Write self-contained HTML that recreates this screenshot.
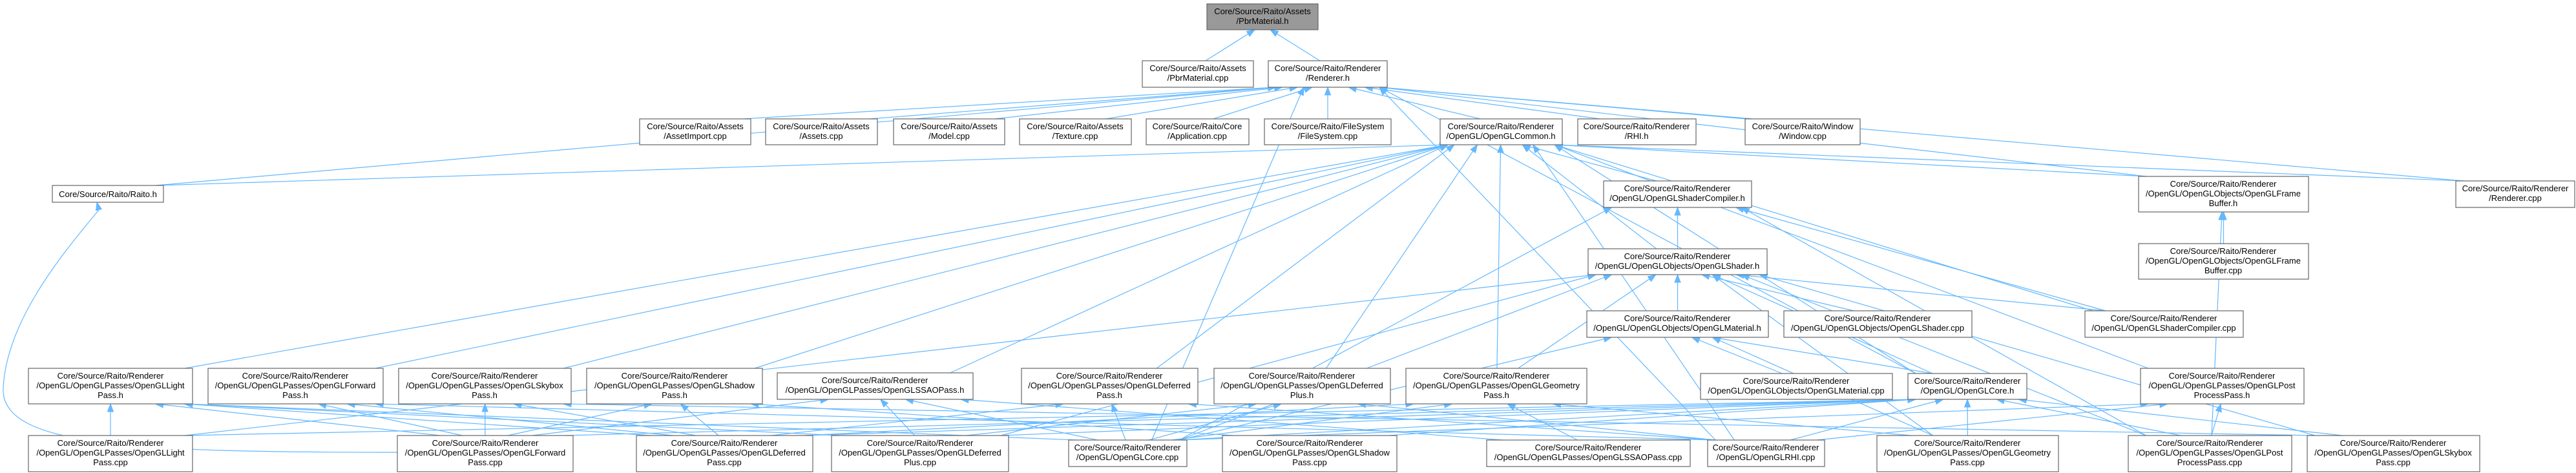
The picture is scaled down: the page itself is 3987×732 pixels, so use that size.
<!DOCTYPE html>
<html><head><meta charset="utf-8"><style>
html,body{margin:0;padding:0;background:#fff;}
svg{display:block;}
text{font-family:"Liberation Sans",Helvetica,Arial,sans-serif;font-size:13px;fill:#000;}
rect{stroke:#666;stroke-width:1.2;fill:#fff;}
</style></head><body>
<svg id="g" width="3987" height="732" viewBox="0 0 3987 732" xmlns="http://www.w3.org/2000/svg">
<g id="edges" fill="none" stroke="#63b8ff" stroke-width="1.2"></g>
<g id="heads" fill="#63b8ff" stroke="#63b8ff"></g>
<g id="nodes" text-anchor="middle">
<rect x="1868" y="6" width="172" height="40" style="fill:#999"/><text x="1954" y="22">Core/Source/Raito/Assets</text><text x="1954" y="37">/PbrMaterial.h</text>
<rect x="1768" y="94" width="172" height="41"/><text x="1854" y="110">Core/Source/Raito/Assets</text><text x="1854" y="125">/PbrMaterial.cpp</text>
<rect x="1963" y="94" width="184" height="41"/><text x="2055" y="110">Core/Source/Raito/Renderer</text><text x="2055" y="125">/Renderer.h</text>
<rect x="990" y="184" width="172" height="40"/><text x="1076" y="200">Core/Source/Raito/Assets</text><text x="1076" y="215">/AssetImport.cpp</text>
<rect x="1185" y="184" width="173" height="40"/><text x="1271" y="200">Core/Source/Raito/Assets</text><text x="1271" y="215">/Assets.cpp</text>
<rect x="1383" y="184" width="172" height="40"/><text x="1469" y="200">Core/Source/Raito/Assets</text><text x="1469" y="215">/Model.cpp</text>
<rect x="1578" y="184" width="173" height="40"/><text x="1664" y="200">Core/Source/Raito/Assets</text><text x="1664" y="215">/Texture.cpp</text>
<rect x="1774" y="184" width="159" height="40"/><text x="1853" y="200">Core/Source/Raito/Core</text><text x="1853" y="215">/Application.cpp</text>
<rect x="1957" y="184" width="196" height="40"/><text x="2055" y="200">Core/Source/Raito/FileSystem</text><text x="2055" y="215">/FileSystem.cpp</text>
<rect x="2229" y="184" width="189" height="40"/><text x="2323" y="200">Core/Source/Raito/Renderer</text><text x="2323" y="215">/OpenGL/OpenGLCommon.h</text>
<rect x="2442" y="184" width="183" height="40"/><text x="2533" y="200">Core/Source/Raito/Renderer</text><text x="2533" y="215">/RHI.h</text>
<rect x="2701" y="184" width="178" height="40"/><text x="2790" y="200">Core/Source/Raito/Window</text><text x="2790" y="215">/Window.cpp</text>
<rect x="81" y="287" width="172" height="26"/><text x="167" y="305">Core/Source/Raito/Raito.h</text>
<rect x="2482" y="280" width="229" height="41"/><text x="2596" y="296">Core/Source/Raito/Renderer</text><text x="2596" y="311">/OpenGL/OpenGLShaderCompiler.h</text>
<rect x="3310" y="273" width="263" height="55"/><text x="3441" y="289">Core/Source/Raito/Renderer</text><text x="3441" y="304">/OpenGL/OpenGLObjects/OpenGLFrame</text><text x="3441" y="319">Buffer.h</text>
<rect x="3801" y="280" width="184" height="41"/><text x="3893" y="296">Core/Source/Raito/Renderer</text><text x="3893" y="311">/Renderer.cpp</text>
<rect x="2458" y="385" width="277" height="40"/><text x="2596" y="401">Core/Source/Raito/Renderer</text><text x="2596" y="416">/OpenGL/OpenGLObjects/OpenGLShader.h</text>
<rect x="3310" y="377" width="263" height="55"/><text x="3441" y="393">Core/Source/Raito/Renderer</text><text x="3441" y="408">/OpenGL/OpenGLObjects/OpenGLFrame</text><text x="3441" y="423">Buffer.cpp</text>
<rect x="2456" y="481" width="281" height="41"/><text x="2596" y="497">Core/Source/Raito/Renderer</text><text x="2596" y="512">/OpenGL/OpenGLObjects/OpenGLMaterial.h</text>
<rect x="2761" y="481" width="291" height="41"/><text x="2906" y="497">Core/Source/Raito/Renderer</text><text x="2906" y="512">/OpenGL/OpenGLObjects/OpenGLShader.cpp</text>
<rect x="3227" y="481" width="245" height="41"/><text x="3349" y="497">Core/Source/Raito/Renderer</text><text x="3349" y="512">/OpenGL/OpenGLShaderCompiler.cpp</text>
<rect x="44" y="570" width="254" height="55"/><text x="171" y="586">Core/Source/Raito/Renderer</text><text x="171" y="601">/OpenGL/OpenGLPasses/OpenGLLight</text><text x="171" y="616">Pass.h</text>
<rect x="322" y="570" width="271" height="55"/><text x="457" y="586">Core/Source/Raito/Renderer</text><text x="457" y="601">/OpenGL/OpenGLPasses/OpenGLForward</text><text x="457" y="616">Pass.h</text>
<rect x="617" y="570" width="267" height="55"/><text x="750" y="586">Core/Source/Raito/Renderer</text><text x="750" y="601">/OpenGL/OpenGLPasses/OpenGLSkybox</text><text x="750" y="616">Pass.h</text>
<rect x="908" y="570" width="272" height="55"/><text x="1044" y="586">Core/Source/Raito/Renderer</text><text x="1044" y="601">/OpenGL/OpenGLPasses/OpenGLShadow</text><text x="1044" y="616">Pass.h</text>
<rect x="1203" y="577" width="303" height="41"/><text x="1354" y="593">Core/Source/Raito/Renderer</text><text x="1354" y="608">/OpenGL/OpenGLPasses/OpenGLSSAOPass.h</text>
<rect x="1581" y="570" width="273" height="55"/><text x="1717" y="586">Core/Source/Raito/Renderer</text><text x="1717" y="601">/OpenGL/OpenGLPasses/OpenGLDeferred</text><text x="1717" y="616">Pass.h</text>
<rect x="1879" y="570" width="273" height="55"/><text x="2015" y="586">Core/Source/Raito/Renderer</text><text x="2015" y="601">/OpenGL/OpenGLPasses/OpenGLDeferred</text><text x="2015" y="616">Plus.h</text>
<rect x="2176" y="570" width="280" height="55"/><text x="2316" y="586">Core/Source/Raito/Renderer</text><text x="2316" y="601">/OpenGL/OpenGLPasses/OpenGLGeometry</text><text x="2316" y="616">Pass.h</text>
<rect x="2632" y="578" width="297" height="40"/><text x="2780" y="594">Core/Source/Raito/Renderer</text><text x="2780" y="609">/OpenGL/OpenGLObjects/OpenGLMaterial.cpp</text>
<rect x="2953" y="578" width="184" height="40"/><text x="3045" y="594">Core/Source/Raito/Renderer</text><text x="3045" y="609">/OpenGL/OpenGLCore.h</text>
<rect x="3313" y="570" width="253" height="55"/><text x="3439" y="586">Core/Source/Raito/Renderer</text><text x="3439" y="601">/OpenGL/OpenGLPasses/OpenGLPost</text><text x="3439" y="616">ProcessPass.h</text>
<rect x="44" y="674" width="254" height="56"/><text x="171" y="690">Core/Source/Raito/Renderer</text><text x="171" y="705">/OpenGL/OpenGLPasses/OpenGLLight</text><text x="171" y="720">Pass.cpp</text>
<rect x="615" y="674" width="272" height="56"/><text x="751" y="690">Core/Source/Raito/Renderer</text><text x="751" y="705">/OpenGL/OpenGLPasses/OpenGLForward</text><text x="751" y="720">Pass.cpp</text>
<rect x="985" y="674" width="273" height="56"/><text x="1121" y="690">Core/Source/Raito/Renderer</text><text x="1121" y="705">/OpenGL/OpenGLPasses/OpenGLDeferred</text><text x="1121" y="720">Pass.cpp</text>
<rect x="1287" y="674" width="274" height="56"/><text x="1424" y="690">Core/Source/Raito/Renderer</text><text x="1424" y="705">/OpenGL/OpenGLPasses/OpenGLDeferred</text><text x="1424" y="720">Plus.cpp</text>
<rect x="1654" y="681" width="183" height="41"/><text x="1745" y="697">Core/Source/Raito/Renderer</text><text x="1745" y="712">/OpenGL/OpenGLCore.cpp</text>
<rect x="1892" y="674" width="270" height="56"/><text x="2027" y="690">Core/Source/Raito/Renderer</text><text x="2027" y="705">/OpenGL/OpenGLPasses/OpenGLShadow</text><text x="2027" y="720">Pass.cpp</text>
<rect x="2301" y="681" width="315" height="41"/><text x="2458" y="697">Core/Source/Raito/Renderer</text><text x="2458" y="712">/OpenGL/OpenGLPasses/OpenGLSSAOPass.cpp</text>
<rect x="2643" y="681" width="181" height="41"/><text x="2733" y="697">Core/Source/Raito/Renderer</text><text x="2733" y="712">/OpenGL/OpenGLRHI.cpp</text>
<rect x="2905" y="674" width="281" height="56"/><text x="3045" y="690">Core/Source/Raito/Renderer</text><text x="3045" y="705">/OpenGL/OpenGLPasses/OpenGLGeometry</text><text x="3045" y="720">Pass.cpp</text>
<rect x="3294" y="674" width="253" height="56"/><text x="3420" y="690">Core/Source/Raito/Renderer</text><text x="3420" y="705">/OpenGL/OpenGLPasses/OpenGLPost</text><text x="3420" y="720">ProcessPass.cpp</text>
<rect x="3571" y="674" width="267" height="56"/><text x="3704" y="690">Core/Source/Raito/Renderer</text><text x="3704" y="705">/OpenGL/OpenGLPasses/OpenGLSkybox</text><text x="3704" y="720">Pass.cpp</text>
</g>
</svg>
<script>
var N={A:[1868,6,2040,46],B:[1768,94,1940,135],R:[1963,94,2147,135],AI:[990,184,1162,224],AS:[1185,184,1358,224],MO:[1383,184,1555,224],TX:[1578,184,1751,224],AP:[1774,184,1933,224],FS:[1957,184,2153,224],CM:[2229,184,2418,224],RH:[2442,184,2625,224],WI:[2701,184,2879,224],RA:[81,287,253,313],SC:[2482,280,2711,321],FB:[3310,273,3573,328],RC:[3801,280,3985,321],SH:[2458,385,2735,425],FBC:[3310,377,3573,432],MA:[2456,481,2737,522],SHC:[2761,481,3052,522],SCC:[3227,481,3472,522],LP:[44,570,298,625],FP:[322,570,593,625],SP:[617,570,884,625],SHP:[908,570,1180,625],SS:[1203,577,1506,618],DP:[1581,570,1854,625],DPP:[1879,570,2152,625],GP:[2176,570,2456,625],MAC:[2632,578,2929,618],CO:[2953,578,3137,618],PP:[3313,570,3566,625],LPC:[44,674,298,730],FPC:[615,674,887,730],DPC:[985,674,1258,730],DPPC:[1287,674,1561,730],COC:[1654,681,1837,722],SHPC:[1892,674,2162,730],SSC:[2301,681,2616,722],RHC:[2643,681,2824,722],GPC:[2905,674,3186,730],PPC:[3294,674,3547,730],SKC:[3571,674,3838,730]};
var E=[["B","A"],["R","A"],
["AI","R"],["AS","R"],["MO","R"],["TX","R"],["AP","R"],["FS","R"],["CM","R"],["RH","R"],["WI","R"],["RC","R"],["RA","R"],["FB","R"],["CO","R"],["RHC","R"],["COC","R"],
["RA","CM"],["LP","CM"],["FP","CM"],["SP","CM"],["SHP","CM"],["SS","CM"],["DP","CM"],["DPP","CM"],["GP","CM"],["SC","CM"],["SH","CM"],["FB","CM"],["RC","CM"],["CO","CM"],["PP","CM"],["RHC","CM"],["SCC","CM"],
["SH","SC"],["SCC","SC"],["COC","SC"],["PPC","SC"],
["MA","SH"],["SHC","SH"],["SCC","SH"],["LPC","SH"],["DPPC","SH"],["GP","SH"],["CO","SH"],["SKC","SH"],["GPC","SH"],["PPC","SH"],["COC","SH"],
["MAC","MA"],["CO","MA"],["COC","MA"],["GPC","MA"],
["COC","CO"],["DPPC","CO"],["FPC","CO"],["SHPC","CO"],["RHC","CO"],["GPC","CO"],["PPC","CO"],["SKC","CO"],["DPC","CO"],["LPC","CO"],
["LPC","LP"],["FPC","LP"],["DPC","LP"],["DPPC","LP"],["COC","LP"],
["FPC","FP"],["DPC","FP"],["RHC","FP"],
["SKC","SP"],["FPC","SP"],["DPC","SP"],
["SHPC","SHP"],["FPC","SHP"],["DPC","SHP"],
["SSC","SS"],["DPPC","SS"],["FPC","SS"],["COC","SS"],
["DPC","DP"],["COC","DP"],["RHC","DP"],
["DPPC","DPP"],["COC","DPP"],["RHC","DPP"],
["GPC","GP"],["DPC","GP"],["COC","GP"],["SSC","GP"],
["PPC","PP"],["COC","PP"],["RHC","PP"],
["FBC","FB"],["PPC","FB"],["FPC","RA"]];
var eg=document.getElementById('edges'),hg=document.getElementById('heads'),ns='http://www.w3.org/2000/svg';
function cl(v,a,b){return Math.max(a,Math.min(b,v));}
E.forEach(function(e){var s=N[e[0]],d=N[e[1]];
var scx=(s[0]+s[2])/2,dcx=(d[0]+d[2])/2,sw=(s[2]-s[0])/2-12,dw=(d[2]-d[0])/2-12;
var sx,sy,dx,dy,path;
if(e[0]=="FPC"&&e[1]=="RA"){sx=615;sy=700;dx=150;dy=313;
path="M"+sx+","+sy+" C200,700 0,690 5,600 C10,500 90,400 "+(dx+3)+","+(dy+12);
}else{
 if(d[3]<s[1]){sx=scx+cl((dcx-scx)*0.12,-sw,sw);sy=s[1];dx=dcx+cl((scx-dcx)*0.12,-dw,dw);dy=d[3];}
 else{ // target beside or below (same row): connect sides
  sy=(s[1]+s[3])/2;dy=(d[1]+d[3])/2;
  if(dcx>scx){sx=s[2];dx=d[0];}else{sx=s[0];dx=d[2];}
 }
 path="M"+sx+","+sy+" L"+dx+","+dy;
}
var p=document.createElementNS(ns,'path');p.setAttribute('d',path);eg.appendChild(p);
var ax,ay;
if(e[0]=="FPC"&&e[1]=="RA"){ax=153;ay=325;}else{ax=sx;ay=sy;}
var vx=ax-dx,vy=ay-dy,L=Math.sqrt(vx*vx+vy*vy)||1;vx/=L;vy/=L;
var bx=dx+vx*12,by=dy+vy*12,px=-vy*4.5,py=vx*4.5;
var t=document.createElementNS(ns,'polygon');
t.setAttribute('points',dx+","+dy+" "+(bx+px)+","+(by+py)+" "+(bx-px)+","+(by-py));hg.appendChild(t);
});
</script>
</body></html>
